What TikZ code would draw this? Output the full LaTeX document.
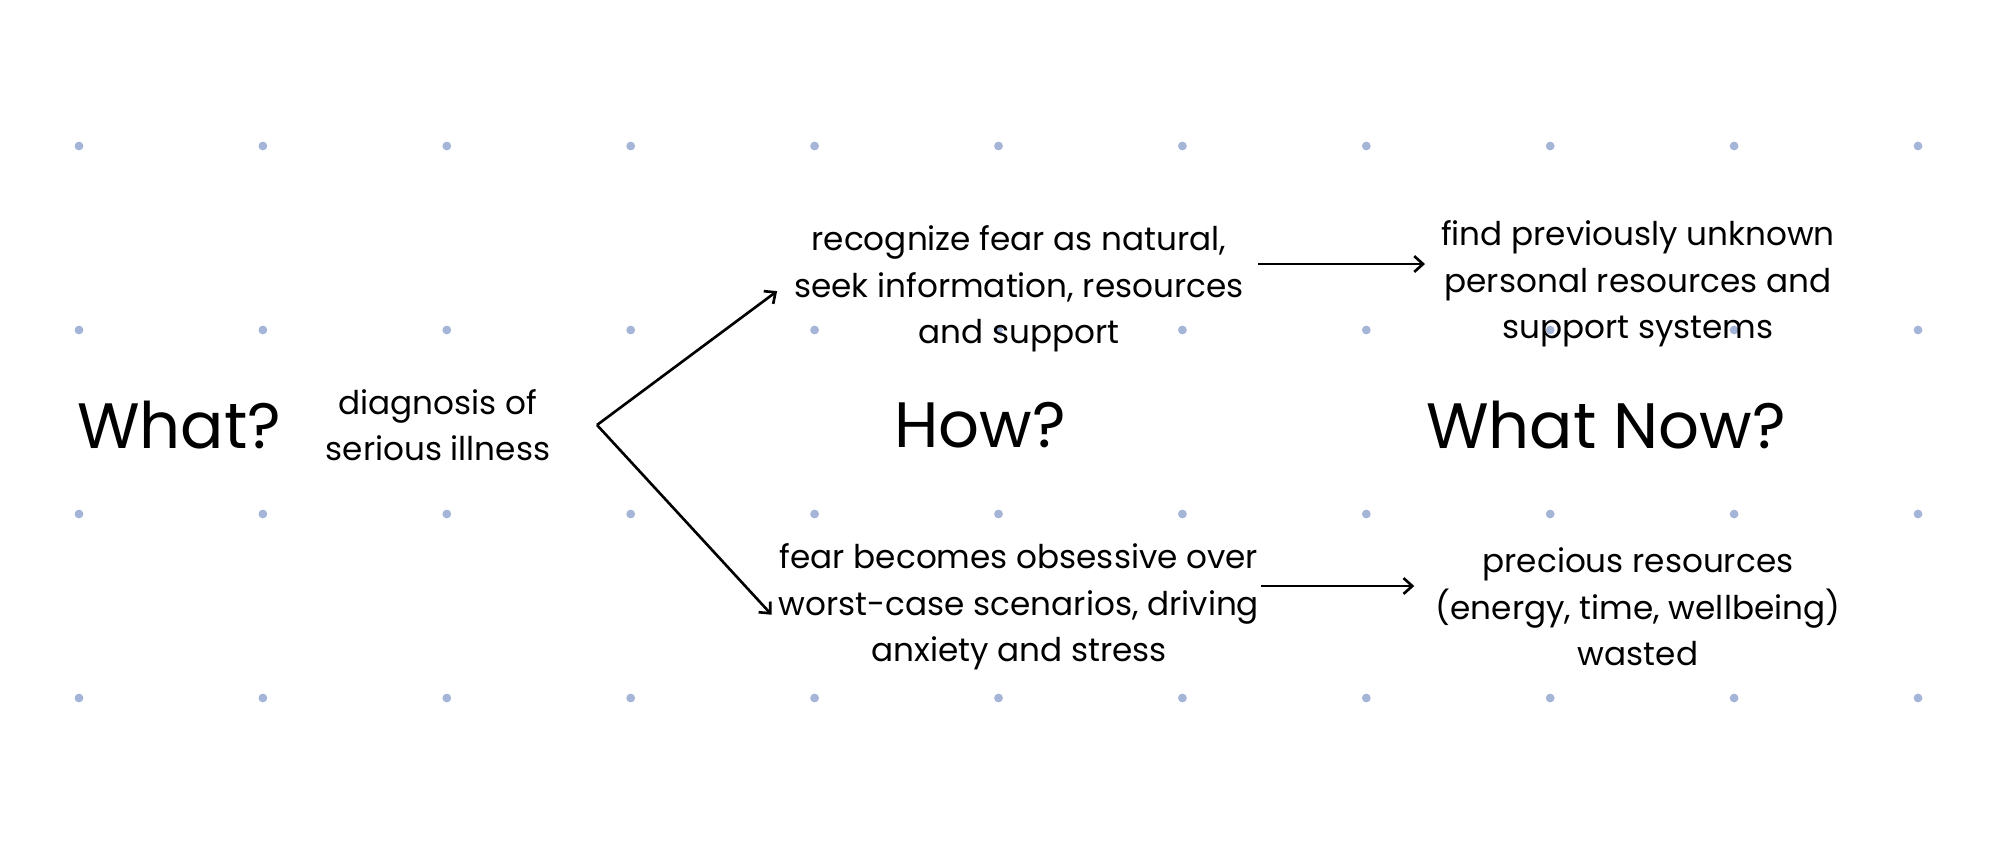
\documentclass[tikz,border=0pt]{standalone}
\usepackage{fontspec}
\setmainfont{Poppins}
\usetikzlibrary{arrows.meta, positioning}
\definecolor{dotblue}{RGB}{164,181,216}
\tikzset{
		title/.style={font=\fontsize{36.5}{40}\selectfont, inner sep=0pt},
		phrase/.style={align=center, font=\fontsize{18.6}{26.4}\selectfont, inner sep=8pt},
		griddot/.style={fill=dotblue},
		link/.style={-{Straight Barb[length=5pt,width=9pt]}, line width=1.5pt}
	}

\begin{document}
\begin{tikzpicture}[x=0.02cm, y=-0.02cm]
				\fill[white] (0,0) rectangle (2008,840);
				\useasboundingbox (0,0) rectangle (2008,840);
				\foreach \i in {0,...,10}
					\foreach \j in {0,...,3}
						\fill[griddot] (79+183.9*\i, 146+184*\j) circle [radius=2.5pt];
				
				\node[title]  (what)  at (179,425)  {What?};
				\node[phrase] (diag)  at (438,425)  {diagnosis of\\serious illness};
				\coordinate   (fork)  at (597,425);
				\node[phrase] (calm)  at (1019,289) {recognize fear as natural,\\seek information, resources\\and support};
				\node[title]  (how)   at (980,425)  {How?};
				\node[phrase] (panic) at (1019,607) {fear becomes obsessive over\\worst-case scenarios, driving\\anxiety and stress};
				\node[phrase] (found) at (1638,284) {find previously unknown\\personal resources and\\support systems};
				\node[title]  (now)   at (1606,425) {What Now?};
				\node[phrase] (waste) at (1638,607) {precious resources\\(energy, time, wellbeing)\\wasted};
				
				\coordinate (up)   at ([yshift=0.5cm]calm.east);
				\coordinate (down) at ([yshift=0.42cm,xshift=-7pt]panic.east);
				
				\path[link] (fork) edge [shorten >=2pt] (calm.west);
				\path[link] (fork) edge [shorten >=-6pt] (panic.west);
				\path[link] (up)   edge [shorten >=1pt] (up -| found.west);
				\path[link] (down) edge [shorten >=4pt] (down -| waste.west);
			\end{tikzpicture}
\end{document}
